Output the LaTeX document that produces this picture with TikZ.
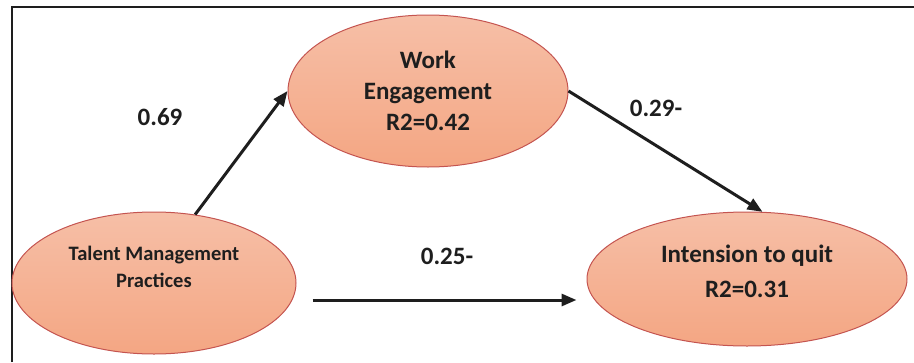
\documentclass[tikz,border=0pt]{standalone}
\usepackage{fontspec}
\setmainfont{Carlito}
\usetikzlibrary{shapes.geometric,arrows.meta}
\definecolor{ovalTop}{RGB}{246,191,167}
\definecolor{ovalBottom}{RGB}{244,166,131}
\definecolor{ovalBorder}{RGB}{196,84,80}
\definecolor{ink}{RGB}{30,30,30}
\tikzset{
    oval-box/.style = {ellipse, draw=ovalBorder, line width=1pt, top color=ovalTop, bottom color=ovalBottom, inner sep=0pt, align=center, text=ink, font=\bfseries\fontsize{25}{31}\selectfont},
    path-arrow/.style = {draw=ink, line width=3pt, -{Triangle[length=15pt,width=12pt]}},
    path-label/.style = {text=ink, font=\bfseries\fontsize{25}{31}\selectfont},
}

\begin{document}
\begin{tikzpicture}[x=1pt,y=-1pt]
\useasboundingbox (0,0) rectangle (914,362);
\draw[ink, line width=2.5pt] (12,362) -- (12,7) -- (914,7);

\node[oval-box, minimum width=284pt, minimum height=142pt, font=\bfseries\fontsize{20.5}{27}\selectfont] (talent) at (154,283) {Talent Management\\Practices\\[6pt] \mbox{}};
\node[oval-box, minimum width=280pt, minimum height=152pt] (work) at (428,91) {Work\\Engagement\\R2=0.42};
\node[oval-box, minimum width=320pt, minimum height=134pt, font=\bfseries\fontsize{25}{35}\selectfont] (intension) at (747,279) {Intension to quit\\R2=0.31\\[-20pt] \mbox{}};

\draw[path-arrow] (talent.59) -- (work.west);
\draw[path-arrow] (work.east) -- (intension.77);
\draw[path-arrow] ([shift={(16,17)}]talent.east) -- ([shift={(-10,21)}]intension.west);

\node[path-label] (label-tw) at (160,117) {0.69};
\node[path-label] (label-wi) at (656,108) {0.29-};
\node[path-label] (label-ti) at (447,256) {0.25-};
\end{tikzpicture}
\end{document}
